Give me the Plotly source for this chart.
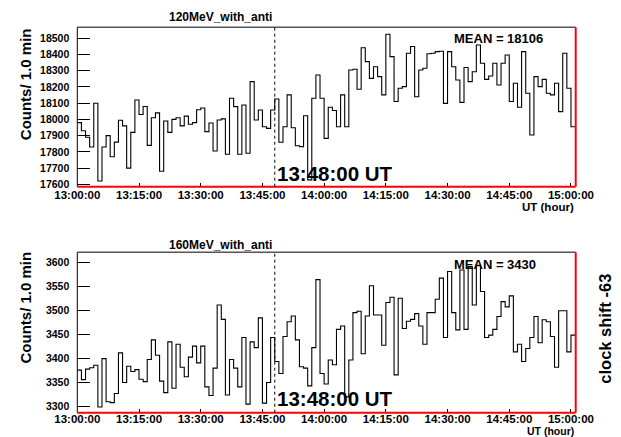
import pandas as pd
import plotly.graph_objects as go

# ---- data (counts per 1-minute bin, 13:00 -> 15:01 UT) ----
counts_120 = [
    17980, 17930, 17890, 17830, 18100, 17620, 17830, 17900, 17770, 17860,
    17995, 17960, 17700, 17920, 18120, 18030, 18080, 17840, 18010, 18040,
    17680, 17990, 17920, 18000, 18010, 17960, 18020, 17970, 17980, 18060,
    18070, 17925, 17978, 17805, 17996, 18003, 17785, 18130, 18079, 17785,
    18089, 17791, 18233, 17996, 18058, 17955, 17945, 18058, 18126, 17859,
    17955, 18151, 17949, 17838, 17832, 18023, 17627, 18130, 18274, 18130,
    17883, 18075, 18055, 17955, 18151, 17955, 18305, 18309, 18186, 18442,
    18356, 18253, 18325, 18264, 18151, 18525, 18387, 18110, 18192, 18202,
    18408, 18449, 18140, 18305, 18315, 18405, 18408, 18418, 18420, 18099,
    18418, 18325, 18243, 18105, 18320, 18233, 18294, 18459, 18346, 18247,
    18268, 18346, 18212, 18346, 18397, 18110, 18223, 18075, 18418, 18161,
    17904, 18264, 18202, 18247, 18161, 18151, 18223, 18048, 18408, 18192,
    17955,
]
counts_160 = [
    3375, 3355, 3377, 3380, 3385, 3298, 3399, 3309, 3307, 3326,
    3411, 3349, 3383, 3372, 3376, 3356, 3351, 3397, 3438, 3406,
    3352, 3328, 3434, 3337, 3429, 3381, 3361, 3402, 3425, 3390,
    3425, 3340, 3322, 3379, 3511, 3481, 3323, 3397, 3379, 3340,
    3443, 3304, 3434, 3422, 3484, 3306, 3349, 3443, 3393, 3368,
    3445, 3476, 3488, 3438, 3382, 3379, 3342, 3422, 3564, 3368,
    3346, 3396, 3386, 3460, 3467, 3319, 3396, 3495, 3498, 3409,
    3488, 3551, 3490, 3490, 3427, 3516, 3527, 3365, 3525, 3462,
    3477, 3481, 3493, 3467, 3429, 3495, 3495, 3523, 3567, 3443,
    3581, 3495, 3459, 3584, 3460, 3591, 3511, 3594, 3539, 3443,
    3448, 3460, 3487, 3518, 3507, 3530, 3413, 3429, 3393, 3420,
    3443, 3487, 3432, 3480, 3476, 3445, 3381, 3499, 3499, 3413,
    3448,
]
panel_titles = ["120MeV_with_anti", "160MeV_with_anti"]
mean_labels = ["MEAN = 18106", "MEAN = 3430"]
marker_time = "13:48:00"
marker_label = "13:48:00 UT"
side_label = "clock shift -63"
y_title = "Counts/ 1.0 min"
x_unit = "UT (hour)"

# ---- build ----
WIN_W, WIN_H = 621, 437
OFF = 8                      # page body margin of the browser
W, H = WIN_W - OFF, WIN_H - OFF
FONT = "Liberation Sans"
day = "2000-01-01 "
t0 = pd.Timestamp(day + "13:00:00")


def edges(n):
    return [t0 + pd.Timedelta(minutes=i) for i in range(n + 1)]


def px(x):
    return (x - OFF) / W


def py(y):
    return 1 - (y - OFF) / H


xdom = [px(77.3), px(575.7)]
xrange = [t0, t0 + pd.Timedelta(minutes=121.15)]
panels = [
    dict(vals=counts_120, ydom=[py(186.7), py(27.3)], yr=[17585.2, 18567.8],
         major=100, minor=10, xstand=0),
    dict(vals=counts_160, ydom=[py(412.7), py(252.3)], yr=[3286, 3621],
         major=50, minor=5, xstand=-2),
]

fig = go.Figure()
for i, p in enumerate(panels):
    ax = "" if i == 0 else "2"
    vals = p["vals"]
    fig.add_trace(go.Scatter(
        x=edges(len(vals)), y=list(vals) + [vals[-1]],
        mode="lines", line=dict(shape="hv", color="black", width=1.1),
        xaxis="x" + ax, yaxis="y" + ax, showlegend=False, hoverinfo="skip"))

tickfont_x = dict(family=FONT, size=11.5, color="black", weight="bold")
tickfont_y = dict(family=FONT, size=10.5, color="black", weight="bold")
layout = dict(width=W, height=H, margin=dict(l=0, r=0, t=0, b=0, pad=0),
              template="none", paper_bgcolor="white", plot_bgcolor="white")
for i, p in enumerate(panels):
    xa = "xaxis" if i == 0 else "xaxis2"
    ya = "yaxis" if i == 0 else "yaxis2"
    xid = "x" if i == 0 else "x2"
    yid = "y" if i == 0 else "y2"
    layout[xa] = dict(domain=xdom, anchor=yid, type="date", range=xrange,
                      tickformat="%H:%M:%S", tick0=t0, dtick=15 * 60 * 1000,
                      ticks="inside", ticklen=4, tickcolor="black",
                      showgrid=False, zeroline=False, showline=False,
                      automargin=False, ticklabelstandoff=p["xstand"],
                      tickfont=tickfont_x)
    layout[ya] = dict(domain=p["ydom"], anchor=xid, range=p["yr"],
                      dtick=p["major"], tick0=0, tickformat="d",
                      ticks="inside", ticklen=13, tickcolor="black",
                      showgrid=False, zeroline=False, showline=False,
                      automargin=False, ticklabelstandoff=7,
                      tickfont=tickfont_y)
    # overlay axis carrying the fine (minor) ticks
    layout["yaxis" + str(3 + i)] = dict(
        domain=p["ydom"], anchor=xid, overlaying=yid, side="left",
        range=p["yr"], dtick=p["minor"], tick0=0, ticks="inside", ticklen=6,
        tickcolor="black", showticklabels=False, showgrid=False,
        zeroline=False, showline=False, automargin=False)
fig.update_layout(**layout)

shapes = []
mark = pd.Timestamp(day + marker_time)
for ax in ["", "2"]:
    xd, yd = "x" + ax + " domain", "y" + ax + " domain"
    shapes += [
        dict(type="line", xref=xd, yref=yd, x0=0, x1=1, y0=1, y1=1,
             line=dict(color="#555555", width=1.5)),
        dict(type="line", xref=xd, yref=yd, x0=0, x1=0, y0=0, y1=1,
             line=dict(color="black", width=1)),
        dict(type="line", xref=xd, yref=yd, x0=0, x1=1, y0=0, y1=0,
             line=dict(color="red", width=2)),
        dict(type="line", xref=xd, yref=yd, x0=1, x1=1, y0=0, y1=1,
             line=dict(color="red", width=2)),
        dict(type="line", xref="x" + ax, yref=yd, x0=mark, x1=mark,
             y0=0, y1=1, line=dict(color="black", width=1, dash="dot")),
    ]
fig.update_layout(shapes=shapes)


def txt(text, x, y, size, xanchor="left", yanchor="middle", angle=0):
    return dict(text=text, x=px(x), y=py(y), xref="paper", yref="paper",
                xanchor=xanchor, yanchor=yanchor, textangle=angle,
                showarrow=False,
                font=dict(family=FONT, size=size, color="black",
                          weight="bold"))


pos = [
    dict(title=16.5, mean=38.3, mark=173.3, unit=207.2, ytitle=84.2,
         usize=11.5),
    dict(title=244.5, mean=264.0, mark=398.0, unit=430.8, ytitle=307.5,
         usize=10.5),
]
ann = []
for i, q in enumerate(pos):
    ann.append(txt(panel_titles[i], 166.7, q["title"], 12))
    ann.append(txt(mean_labels[i], 451.5, q["mean"], 13))
    ann.append(txt(marker_label, 275, q["mark"], 20.5))
    ann.append(txt(x_unit, 575.5, q["unit"], q["usize"], xanchor="right"))
    ann.append(txt(y_title, 25, q["ytitle"], 15, xanchor="center", angle=-90))
ann.append(txt(side_label, 605, 328.7, 16.5, xanchor="center", angle=-90))
fig.update_layout(annotations=ann)

fig.write_html("out.html")
